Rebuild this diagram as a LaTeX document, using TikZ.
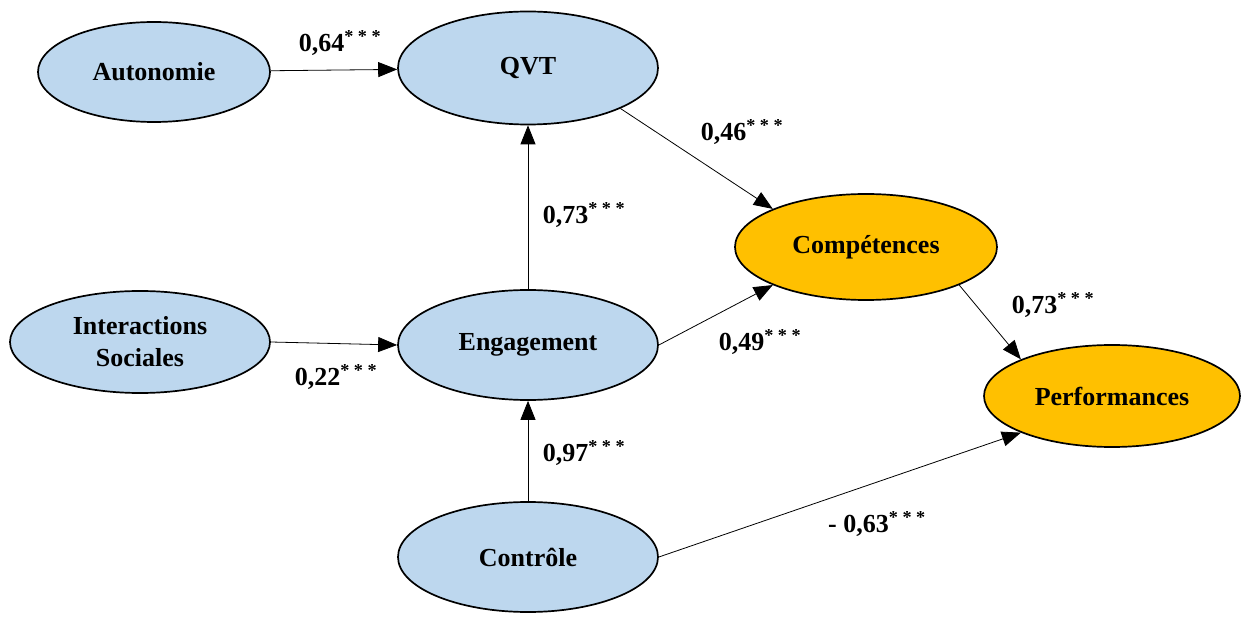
\documentclass[tikz,border=0pt]{standalone}
\usepackage{fontspec}
\setmainfont{Liberation Serif}
\usetikzlibrary{shapes.geometric,arrows.meta}
\definecolor{bleuvar}{HTML}{BDD7EE}
\definecolor{jaunevar}{HTML}{FFC000}
\begin{document}
\begin{tikzpicture}[x=1pt, y=-1pt, font=\fontsize{26}{32}\selectfont\bfseries, line join=round,
	>={Triangle[length=19pt,width=15pt]},
	var/.style={ellipse, draw=black, line width=1.7pt, fill=bleuvar, inner sep=0pt, align=center},
	res/.style={var, fill=jaunevar},
	coef/.style={font=\fontsize{26}{32}\selectfont\bfseries},
	fl/.style={->, line width=0.8pt}]
	\useasboundingbox (0,0) rectangle (1242,617);
	\node[var, minimum width=232pt, minimum height=100pt] (auto) at (154,72) {Autonomie};
	\node[var, minimum width=260pt, minimum height=113pt] (qvt) at (528,68) {QVT};
	\node[var, minimum width=260pt, minimum height=102pt] (inter) at (140,342) {Interactions\\Sociales};
	\node[var, minimum width=260pt, minimum height=110pt] (eng) at (528,345) {Engagement};
	\node[var, minimum width=260pt, minimum height=110pt] (ctrl) at (528,557) {Contrôle};
	\node[res, minimum width=262pt, minimum height=106pt] (comp) at (866,247) {Compétences};
	\node[res, minimum width=256pt, minimum height=102pt] (perf) at (1112,396) {Performances};
	\draw[fl] (auto) -- (qvt);
	\draw[fl] (eng) -- (qvt);
	\draw[fl] (inter.east) -- (eng.west);
	\draw[fl] (ctrl) -- (eng);
	\draw[fl] (qvt.south east) -- (comp.north west);
	\draw[fl] (eng.east) -- (comp.south west);
	\draw[fl] (comp.south east) -- (perf.north west);
	\draw[fl] (ctrl.east) -- (perf.south west);
	\node[coef] (c1) at (340,43) {0,64\textsuperscript{* * *}};
	\node[coef] (c2) at (742,132) {0,46\textsuperscript{* * *}};
	\node[coef] (c3) at (584,215) {0,73\textsuperscript{* * *}};
	\node[coef] (c4) at (1053,305) {0,73\textsuperscript{* * *}};
	\node[coef] (c5) at (760,342) {0,49\textsuperscript{* * *}};
	\node[coef] (c6) at (336,377) {0,22\textsuperscript{* * *}};
	\node[coef] (c7) at (584,453) {0,97\textsuperscript{* * *}};
	\node[coef] (c8) at (877,524) {- 0,63\textsuperscript{* * *}};
\end{tikzpicture}
\end{document}
